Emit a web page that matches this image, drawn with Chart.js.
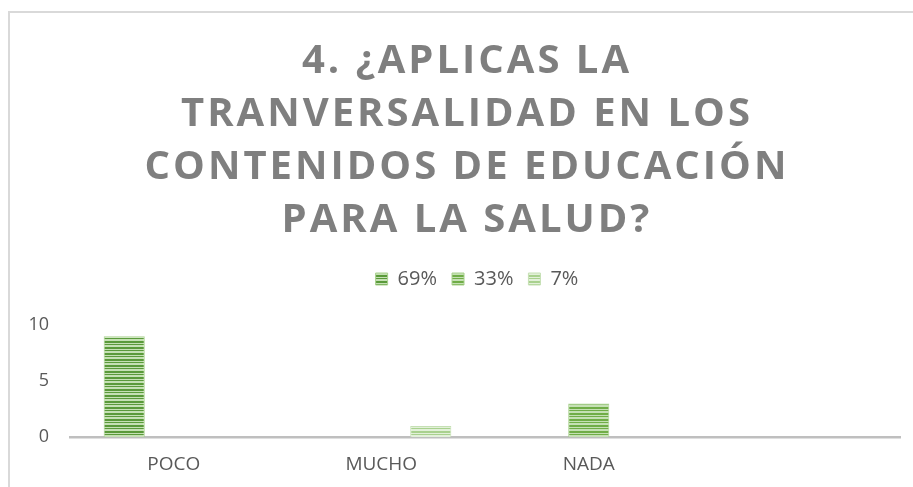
<!DOCTYPE html>
<html>
<head>
<meta charset="utf-8">
<script src="https://cdn.jsdelivr.net/npm/chart.js@4.4.1/dist/chart.umd.min.js"></script>
<style>
    html, body { margin: 0; padding: 0; background: #fff; }
    #wrap { position: relative; width: 913px; height: 487px; overflow: hidden; }
    #frame {
        position: absolute; left: 8px; top: 11px; width: 920px; height: 490px;
        border-top: 2px solid #d9d9d9; border-left: 2px solid #d9d9d9;
    }
    #title {
        position: absolute; left: 0; top: 31px; width: 934px; text-align: center;
        font-family: "Open Sans", sans-serif; font-weight: bold; font-size: 40px;
        line-height: 53px; letter-spacing: 3px; color: #7f7f7f;
    }
    #chart { position: absolute; left: 0; top: 0; }
</style>
</head>
<body>
<div id="wrap">
    <div id="frame"></div>
    <canvas id="chart" width="913" height="487"></canvas>
    <div id="title">4. ¿APLICAS LA<br>TRANVERSALIDAD EN LOS<br>CONTENIDOS DE EDUCACIÓN<br>PARA LA SALUD?</div>
</div>
<script>
const categories = ['POCO', 'MUCHO', 'NADA', ''];
const seriesNames = ['69%', '33%', '7%'];
const values69 = [9, null, null, null];
const values33 = [null, null, 3, null];
const values7 = [null, 1, null, null];
const yTicks = [0, 5, 10];

// striped fills like the office pattern
function stripes(dark, light) {
    const c = document.createElement('canvas');
    c.width = 4; c.height = 6;
    const g = c.getContext('2d');
    const rows = [dark, light, dark, light, light, dark];
    rows.forEach((col, i) => { g.fillStyle = col; g.fillRect(0, i, 4, 1); });
    return document.getElementById('chart').getContext('2d').createPattern(c, 'repeat');
}

const fill69 = stripes('#5a9a3a', '#c5e0b4');
const fill33 = stripes('#70ad47', '#c5e0b4');
const fill7 = stripes('#a9d18e', '#e2f0d9');

// more room under the legend, and legend nudged right like the original
const legendSpace = {
    id: 'legendSpace',
    beforeInit(chart) {
        const fit = chart.legend.fit;
        chart.legend.fit = function () {
            fit.bind(chart.legend)();
            this.height += 26;
        };
    },
    afterLayout(chart) {
        chart.legend.left += 27;
        chart.legend.right += 27;
    }
};

new Chart(document.getElementById('chart'), {
    type: 'bar',
    data: {
        labels: categories,
        datasets: [
            { label: seriesNames[0], data: values69, backgroundColor: fill69, borderColor: '#a9d18e', borderWidth: 1 },
            { label: seriesNames[1], data: values33, backgroundColor: fill33, borderColor: '#a9d18e', borderWidth: 1 },
            { label: seriesNames[2], data: values7, backgroundColor: fill7, borderColor: '#c5e0b4', borderWidth: 1 }
        ]
    },
    options: {
        responsive: false,
        animation: false,
        categoryPercentage: 0.716,
        barPercentage: 0.83,
        layout: { padding: { top: 254, right: 13, bottom: -5, left: 0 } },
        scales: {
            x: {
                grid: { display: false, drawTicks: false },
                border: { color: '#bfbfbf', width: 2.5 },
                ticks: { color: '#595959', font: { family: 'Open Sans', size: 19 }, padding: 16 }
            },
            y: {
                min: 0,
                max: 10,
                afterFit(scale) { scale.width = 70; },
                afterBuildTicks(scale) { scale.ticks = yTicks.map(v => ({ value: v })); },
                grid: { display: false, drawTicks: false },
                border: { display: false },
                ticks: { color: '#595959', font: { family: 'Open Sans', size: 18 }, padding: 21 }
            }
        },
        plugins: {
            legend: {
                position: 'top',
                labels: {
                    color: '#595959',
                    font: { family: 'Open Sans', size: 20 },
                    boxWidth: 12,
                    boxHeight: 12,
                    padding: 15
                }
            },
            tooltip: { enabled: false }
        }
    },
    plugins: [legendSpace]
});
</script>
</body>
</html>
